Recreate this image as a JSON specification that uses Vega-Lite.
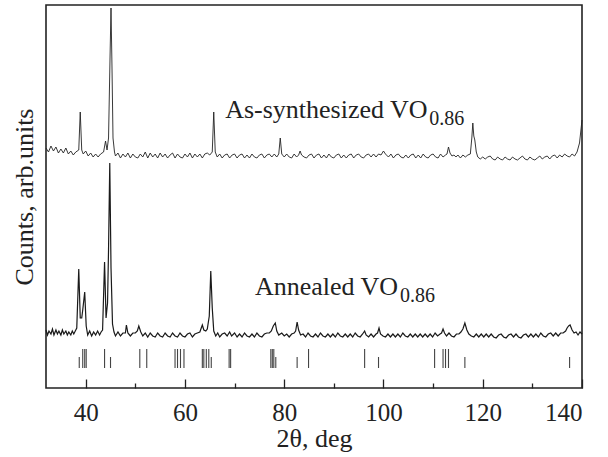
{
  "$schema": "https://vega.github.io/schema/vega-lite/v6.json",
  "width": 536,
  "height": 383,
  "autosize": "none",
  "padding": {"left": 46, "top": 5, "right": 26, "bottom": 69},
  "background": "white",
  "config": {
    "view": {"stroke": "#222", "strokeWidth": 1.6},
    "font": "Times New Roman"
  },
  "datasets": {
    "asyn": [
      {"t":32,"c":240},{"t":32.5,"c":236},{"t":33,"c":242},{"t":33.5,"c":237},{"t":34,"c":241},{"t":34.5,"c":235},{"t":35,"c":239},{"t":35.5,"c":235},{"t":36,"c":240},{"t":36.5,"c":234},{"t":37,"c":237},{"t":37.5,"c":233},{"t":38,"c":236},{"t":38.6,"c":238},{"t":38.9,"c":276},{"t":39.2,"c":238},{"t":39.5,"c":234},{"t":40,"c":237},{"t":40.5,"c":232},{"t":41,"c":235},{"t":41.5,"c":231},{"t":42,"c":234},{"t":42.5,"c":231},{"t":43,"c":234},{"t":43.6,"c":236},{"t":44.0,"c":247},{"t":44.3,"c":238},{"t":44.6,"c":250},{"t":44.9,"c":330},{"t":45.1,"c":380},{"t":45.3,"c":320},{"t":45.5,"c":250},{"t":45.8,"c":236},{"t":46,"c":232},{"t":46.5,"c":235},{"t":47,"c":230},{"t":47.5,"c":234},{"t":48,"c":231},{"t":48.5,"c":235},{"t":49,"c":230},{"t":49.5,"c":234},{"t":50,"c":231},{"t":50.5,"c":230},{"t":51,"c":234},{"t":51.5,"c":231},{"t":52,"c":236},{"t":52.5,"c":230},{"t":53,"c":235},{"t":53.5,"c":231},{"t":54,"c":234},{"t":54.5,"c":230},{"t":55,"c":235},{"t":55.5,"c":231},{"t":56,"c":234},{"t":56.5,"c":230},{"t":57,"c":233},{"t":57.5,"c":235},{"t":58,"c":230},{"t":58.5,"c":234},{"t":59,"c":231},{"t":59.5,"c":230},{"t":60,"c":234},{"t":60.5,"c":231},{"t":61,"c":235},{"t":61.5,"c":230},{"t":62,"c":234},{"t":62.5,"c":231},{"t":63,"c":234},{"t":63.5,"c":230},{"t":64,"c":234},{"t":64.5,"c":235},{"t":65,"c":233},{"t":65.5,"c":236},{"t":65.8,"c":276},{"t":66.1,"c":236},{"t":66.5,"c":231},{"t":67,"c":234},{"t":67.5,"c":230},{"t":68,"c":233},{"t":68.5,"c":234},{"t":69,"c":230},{"t":69.5,"c":233},{"t":70,"c":234},{"t":70.5,"c":230},{"t":71,"c":233},{"t":71.5,"c":234},{"t":72,"c":230},{"t":72.5,"c":233},{"t":73,"c":230},{"t":73.5,"c":234},{"t":74,"c":231},{"t":74.5,"c":230},{"t":75,"c":233},{"t":75.5,"c":234},{"t":76,"c":230},{"t":76.5,"c":233},{"t":77,"c":234},{"t":77.5,"c":231},{"t":78,"c":234},{"t":78.5,"c":231},{"t":78.9,"c":234},{"t":79.2,"c":250},{"t":79.5,"c":234},{"t":80,"c":231},{"t":80.5,"c":234},{"t":81,"c":231},{"t":81.5,"c":230},{"t":82,"c":234},{"t":82.5,"c":231},{"t":82.9,"c":233},{"t":83.2,"c":237},{"t":83.5,"c":233},{"t":84,"c":231},{"t":84.5,"c":230},{"t":85,"c":233},{"t":85.5,"c":234},{"t":86,"c":230},{"t":86.5,"c":233},{"t":87,"c":234},{"t":87.5,"c":230},{"t":88,"c":233},{"t":88.5,"c":230},{"t":89,"c":234},{"t":89.5,"c":231},{"t":90,"c":230},{"t":90.5,"c":233},{"t":91,"c":234},{"t":91.5,"c":230},{"t":92,"c":233},{"t":92.5,"c":230},{"t":93,"c":233},{"t":93.5,"c":234},{"t":94,"c":230},{"t":94.5,"c":233},{"t":95,"c":234},{"t":95.5,"c":231},{"t":96,"c":230},{"t":96.5,"c":233},{"t":97,"c":234},{"t":97.5,"c":231},{"t":98,"c":234},{"t":98.5,"c":231},{"t":99,"c":234},{"t":99.5,"c":233},{"t":100,"c":237},{"t":100.4,"c":234},{"t":101,"c":231},{"t":101.5,"c":234},{"t":102,"c":230},{"t":102.5,"c":233},{"t":103,"c":234},{"t":103.5,"c":231},{"t":104,"c":230},{"t":104.5,"c":233},{"t":105,"c":230},{"t":105.5,"c":233},{"t":106,"c":234},{"t":106.5,"c":230},{"t":107,"c":233},{"t":107.5,"c":230},{"t":108,"c":234},{"t":108.5,"c":231},{"t":109,"c":230},{"t":109.5,"c":233},{"t":110,"c":234},{"t":110.5,"c":231},{"t":111,"c":230},{"t":111.5,"c":234},{"t":112,"c":231},{"t":112.5,"c":233},{"t":112.8,"c":234},{"t":113.1,"c":241},{"t":113.4,"c":235},{"t":113.8,"c":232},{"t":114.2,"c":233},{"t":114.6,"c":231},{"t":115,"c":233},{"t":115.5,"c":230},{"t":116,"c":233},{"t":116.5,"c":231},{"t":117,"c":233},{"t":117.5,"c":234},{"t":117.8,"c":250},{"t":118.0,"c":265},{"t":118.2,"c":252},{"t":118.4,"c":248},{"t":118.7,"c":236},{"t":119,"c":231},{"t":119.5,"c":229},{"t":120,"c":231},{"t":120.5,"c":229},{"t":121,"c":231},{"t":121.5,"c":232},{"t":122,"c":229},{"t":122.5,"c":228},{"t":123,"c":231},{"t":123.5,"c":229},{"t":124,"c":228},{"t":124.5,"c":231},{"t":125,"c":229},{"t":125.5,"c":228},{"t":126,"c":231},{"t":126.5,"c":229},{"t":127,"c":228},{"t":127.5,"c":230},{"t":128,"c":232},{"t":128.5,"c":229},{"t":129,"c":228},{"t":129.5,"c":231},{"t":130,"c":229},{"t":130.5,"c":228},{"t":131,"c":230},{"t":131.5,"c":232},{"t":132,"c":229},{"t":132.5,"c":231},{"t":133,"c":232},{"t":133.5,"c":229},{"t":134,"c":232},{"t":134.5,"c":233},{"t":135,"c":230},{"t":135.5,"c":233},{"t":136,"c":231},{"t":136.5,"c":234},{"t":137,"c":232},{"t":137.5,"c":231},{"t":138,"c":234},{"t":138.5,"c":232},{"t":139,"c":236},{"t":139.5,"c":245},{"t":140,"c":268}
    ],
    "ann": [
      {"t":32,"c":58},{"t":32.3,"c":53},{"t":32.6,"c":57},{"t":33,"c":54},{"t":33.3,"c":59},{"t":33.6,"c":53},{"t":34,"c":58},{"t":34.3,"c":54},{"t":34.6,"c":57},{"t":35,"c":53},{"t":35.3,"c":58},{"t":35.6,"c":54},{"t":36,"c":57},{"t":36.3,"c":53},{"t":36.6,"c":56},{"t":37,"c":53},{"t":37.3,"c":57},{"t":37.6,"c":54},{"t":37.9,"c":57},{"t":38.2,"c":60},{"t":38.6,"c":119},{"t":38.9,"c":70},{"t":39.2,"c":70},{"t":39.4,"c":78},{"t":39.8,"c":96},{"t":40.1,"c":62},{"t":40.4,"c":53},{"t":40.8,"c":57},{"t":41.2,"c":52},{"t":41.6,"c":56},{"t":42,"c":53},{"t":42.4,"c":57},{"t":42.8,"c":53},{"t":43.1,"c":56},{"t":43.4,"c":58},{"t":43.8,"c":126},{"t":44.1,"c":70},{"t":44.4,"c":85},{"t":44.6,"c":138},{"t":44.85,"c":225},{"t":45.1,"c":120},{"t":45.4,"c":64},{"t":45.7,"c":56},{"t":46,"c":52},{"t":46.5,"c":56},{"t":47,"c":52},{"t":47.5,"c":55},{"t":48.0,"c":55},{"t":48.2,"c":63},{"t":48.5,"c":55},{"t":49,"c":52},{"t":49.5,"c":55},{"t":50,"c":55},{"t":50.4,"c":57},{"t":50.7,"c":62},{"t":51.1,"c":56},{"t":51.5,"c":52},{"t":52,"c":55},{"t":52.5,"c":51},{"t":53,"c":55},{"t":53.5,"c":52},{"t":54,"c":51},{"t":54.5,"c":55},{"t":55,"c":52},{"t":55.5,"c":51},{"t":56,"c":55},{"t":56.5,"c":52},{"t":57,"c":51},{"t":57.5,"c":55},{"t":58,"c":52},{"t":58.5,"c":51},{"t":59,"c":55},{"t":59.5,"c":52},{"t":60,"c":51},{"t":60.5,"c":54},{"t":61,"c":55},{"t":61.5,"c":51},{"t":62,"c":54},{"t":62.5,"c":55},{"t":63,"c":56},{"t":63.5,"c":63},{"t":63.8,"c":58},{"t":64.2,"c":57},{"t":64.5,"c":59},{"t":64.9,"c":72},{"t":65.2,"c":117},{"t":65.5,"c":80},{"t":65.8,"c":57},{"t":66.2,"c":52},{"t":66.6,"c":55},{"t":67,"c":51},{"t":67.5,"c":54},{"t":68,"c":55},{"t":68.5,"c":52},{"t":69,"c":56},{"t":69.4,"c":52},{"t":70,"c":55},{"t":70.5,"c":51},{"t":71,"c":54},{"t":71.5,"c":51},{"t":72,"c":55},{"t":72.5,"c":52},{"t":73,"c":51},{"t":73.5,"c":54},{"t":74,"c":51},{"t":74.5,"c":55},{"t":75,"c":52},{"t":75.5,"c":51},{"t":76,"c":54},{"t":76.5,"c":55},{"t":77,"c":55},{"t":77.4,"c":57},{"t":77.8,"c":62},{"t":78.2,"c":65},{"t":78.5,"c":57},{"t":78.9,"c":53},{"t":79.5,"c":55},{"t":80,"c":52},{"t":80.5,"c":54},{"t":81,"c":51},{"t":81.5,"c":54},{"t":82,"c":55},{"t":82.3,"c":57},{"t":82.6,"c":66},{"t":82.9,"c":58},{"t":83.3,"c":53},{"t":83.8,"c":54},{"t":84.3,"c":51},{"t":84.8,"c":55},{"t":85.3,"c":52},{"t":85.8,"c":51},{"t":86.3,"c":54},{"t":86.8,"c":51},{"t":87.3,"c":55},{"t":87.8,"c":52},{"t":88.3,"c":51},{"t":88.8,"c":54},{"t":89.3,"c":51},{"t":89.8,"c":54},{"t":90.3,"c":51},{"t":90.8,"c":55},{"t":91.3,"c":52},{"t":91.8,"c":51},{"t":92.3,"c":54},{"t":92.8,"c":51},{"t":93.3,"c":54},{"t":93.8,"c":51},{"t":94.3,"c":55},{"t":94.8,"c":52},{"t":95.3,"c":51},{"t":95.8,"c":54},{"t":96.2,"c":57},{"t":96.5,"c":53},{"t":97,"c":51},{"t":97.5,"c":54},{"t":98,"c":51},{"t":98.5,"c":54},{"t":98.8,"c":55},{"t":99.1,"c":60},{"t":99.4,"c":54},{"t":99.9,"c":52},{"t":100.4,"c":51},{"t":100.9,"c":54},{"t":101.4,"c":51},{"t":101.9,"c":54},{"t":102.4,"c":51},{"t":102.9,"c":54},{"t":103.4,"c":51},{"t":103.9,"c":55},{"t":104.4,"c":52},{"t":104.9,"c":51},{"t":105.4,"c":54},{"t":105.9,"c":51},{"t":106.4,"c":54},{"t":106.9,"c":51},{"t":107.4,"c":54},{"t":107.9,"c":51},{"t":108.4,"c":54},{"t":108.9,"c":51},{"t":109.4,"c":54},{"t":109.9,"c":51},{"t":110.4,"c":55},{"t":110.9,"c":52},{"t":111.4,"c":54},{"t":111.7,"c":55},{"t":112.0,"c":59},{"t":112.3,"c":55},{"t":112.7,"c":52},{"t":113.2,"c":55},{"t":113.7,"c":52},{"t":114.2,"c":51},{"t":114.7,"c":54},{"t":115.2,"c":54},{"t":115.6,"c":56},{"t":116.0,"c":59},{"t":116.4,"c":65},{"t":116.8,"c":58},{"t":117.2,"c":54},{"t":117.7,"c":52},{"t":118.2,"c":51},{"t":118.7,"c":54},{"t":119.2,"c":51},{"t":119.7,"c":54},{"t":120.2,"c":51},{"t":120.7,"c":54},{"t":121.2,"c":51},{"t":121.7,"c":54},{"t":122.2,"c":51},{"t":122.7,"c":50},{"t":123.2,"c":53},{"t":123.7,"c":54},{"t":124.2,"c":51},{"t":124.7,"c":50},{"t":125.2,"c":53},{"t":125.7,"c":54},{"t":126.2,"c":51},{"t":126.7,"c":54},{"t":127.2,"c":51},{"t":127.7,"c":50},{"t":128.2,"c":53},{"t":128.7,"c":54},{"t":129.2,"c":51},{"t":129.7,"c":54},{"t":130.2,"c":51},{"t":130.7,"c":54},{"t":131.2,"c":51},{"t":131.7,"c":55},{"t":132.2,"c":52},{"t":132.7,"c":51},{"t":133.2,"c":54},{"t":133.7,"c":55},{"t":134.2,"c":52},{"t":134.7,"c":55},{"t":135.2,"c":52},{"t":135.7,"c":55},{"t":136.2,"c":55},{"t":136.7,"c":57},{"t":137.0,"c":60},{"t":137.3,"c":62},{"t":137.6,"c":63},{"t":138.0,"c":58},{"t":138.4,"c":55},{"t":138.8,"c":56},{"t":139.2,"c":53},{"t":139.6,"c":56},{"t":140,"c":54}
    ],
    "refs": [
      {"t":38.7,"top":31},{"t":39.4,"top":39},{"t":39.8,"top":39},{"t":40.1,"top":39},{"t":43.8,"top":39},{"t":45.0,"top":31},{"t":50.9,"top":39},{"t":52.3,"top":39},{"t":58.0,"top":39},{"t":58.5,"top":39},{"t":59.1,"top":39},{"t":59.8,"top":39},{"t":63.5,"top":39},{"t":63.8,"top":39},{"t":64.3,"top":39},{"t":64.8,"top":39},{"t":65.3,"top":31},{"t":68.9,"top":39},{"t":69.2,"top":39},{"t":77.3,"top":39},{"t":77.6,"top":39},{"t":77.9,"top":39},{"t":78.3,"top":31},{"t":82.6,"top":31},{"t":84.9,"top":39},{"t":96.2,"top":39},{"t":99.0,"top":31},{"t":110.3,"top":39},{"t":112.0,"top":39},{"t":112.5,"top":39},{"t":113.1,"top":39},{"t":116.4,"top":31},{"t":137.5,"top":31}
    ]
  },
  "layer": [
    {
      "data": {"name": "asyn"},
      "mark": {"type": "line", "color": "#222", "strokeWidth": 0.9},
      "encoding": {
        "x": {
          "field": "t", "type": "quantitative",
          "scale": {"domain": [32, 140], "nice": false, "zero": false},
          "axis": {
            "title": "2θ, deg",
            "values": [40, 50, 60, 70, 80, 90, 100, 110, 120, 130, 140],
            "labelExpr": "datum.value % 20 == 0 ? datum.label : ''",
            "grid": false, "domain": false,
            "tickColor": "#222", "tickWidth": 1.3,
            "tickSize": {"condition": {"test": "datum.value % 20 == 0", "value": -9}, "value": -5},
            "labelFont": "Times New Roman", "labelFontSize": 25, "labelColor": "#222", "labelPadding": 21,
            "titleFont": "Times New Roman", "titleFontSize": 26, "titleFontWeight": "normal", "titleColor": "#222", "titlePadding": 0
          }
        },
        "y": {"field": "c", "type": "quantitative",
          "scale": {"domain": [0, 383], "nice": false, "zero": false},
          "axis": {"title": "Counts, arb.units", "labels": false, "ticks": false, "domain": false, "grid": false,
            "titleFont": "Times New Roman", "titleFontSize": 26, "titleFontWeight": "normal", "titleColor": "#222", "titlePadding": 9}}
      }
    },
    {
      "data": {"name": "ann"},
      "mark": {"type": "line", "color": "#1a1a1a", "strokeWidth": 1.2},
      "encoding": {"x": {"field": "t", "type": "quantitative"}, "y": {"field": "c", "type": "quantitative"}}
    },
    {
      "data": {"name": "refs"},
      "mark": {"type": "rule", "color": "#444", "strokeWidth": 1.1},
      "encoding": {"x": {"field": "t", "type": "quantitative"}, "y": {"field": "top", "type": "quantitative"}, "y2": {"datum": 20}}
    },
    {
      "data": {"values": [{"label": "As-synthesized VO"}]},
      "mark": {"type": "text", "align": "left", "baseline": "alphabetic", "font": "Times New Roman", "fontSize": 26, "color": "#222"},
      "encoding": {"x": {"datum": 68.1, "type": "quantitative"}, "y": {"datum": 270, "type": "quantitative"}, "text": {"field": "label"}}
    },
    {
      "data": {"values": [{"label": "0.86"}]},
      "mark": {"type": "text", "align": "left", "baseline": "alphabetic", "font": "Times New Roman", "fontSize": 20, "color": "#222", "dx": 204, "dy": 7},
      "encoding": {"x": {"datum": 68.1, "type": "quantitative"}, "y": {"datum": 270, "type": "quantitative"}, "text": {"field": "label"}}
    },
    {
      "data": {"values": [{"label": "Annealed VO"}]},
      "mark": {"type": "text", "align": "left", "baseline": "alphabetic", "font": "Times New Roman", "fontSize": 26, "color": "#222"},
      "encoding": {"x": {"datum": 74.1, "type": "quantitative"}, "y": {"datum": 93, "type": "quantitative"}, "text": {"field": "label"}}
    },
    {
      "data": {"values": [{"label": "0.86"}]},
      "mark": {"type": "text", "align": "left", "baseline": "alphabetic", "font": "Times New Roman", "fontSize": 20, "color": "#222", "dx": 145, "dy": 7},
      "encoding": {"x": {"datum": 74.1, "type": "quantitative"}, "y": {"datum": 93, "type": "quantitative"}, "text": {"field": "label"}}
    }
  ]
}
